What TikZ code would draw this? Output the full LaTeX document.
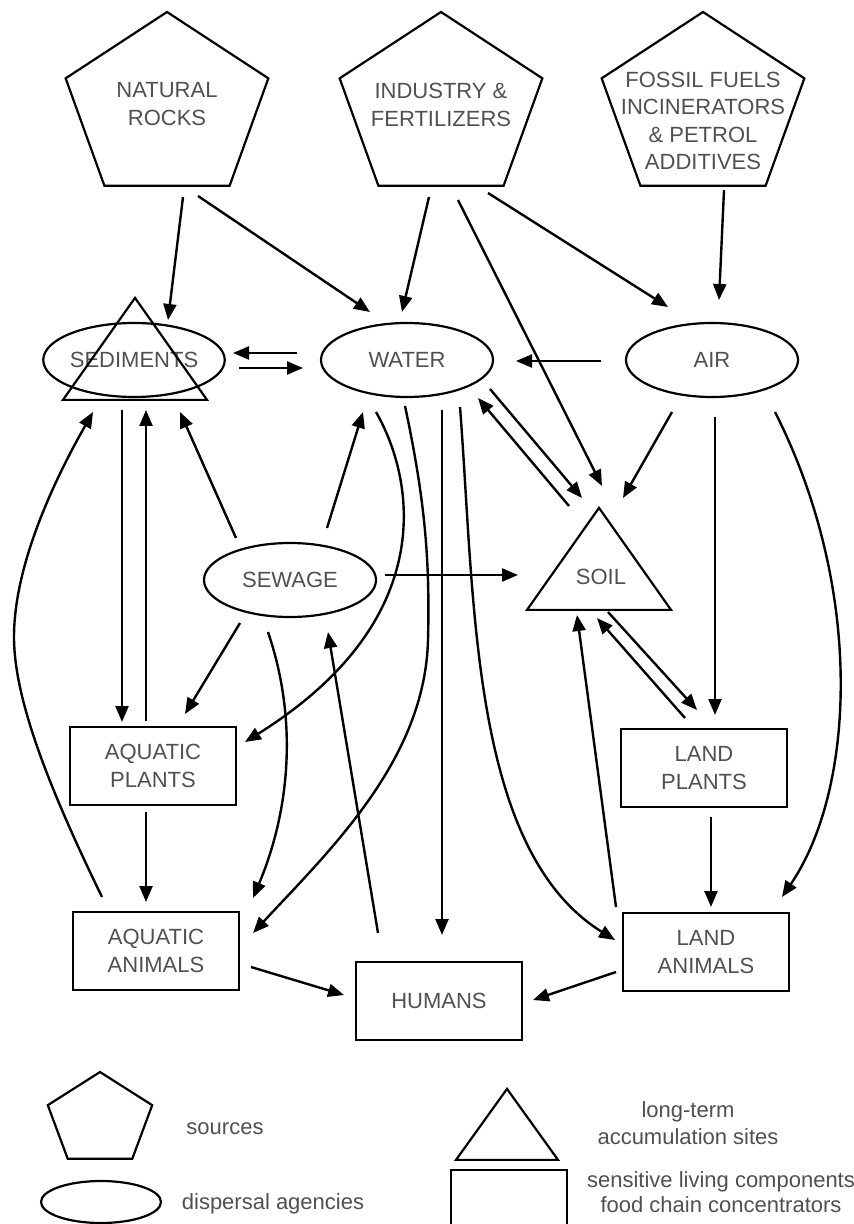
\documentclass[tikz,border=0pt]{standalone}
\usepackage{fontspec}
\setmainfont{Liberation Sans}
\usetikzlibrary{shapes.geometric, arrows.meta, calc}
\definecolor{textgray}{RGB}{80,80,80}

\begin{document}
\begin{tikzpicture}[
    x=0.5pt, y=-0.5pt,
    every node/.style={font=\fontsize{11}{13.8}\selectfont, text=textgray},
    source/.style={regular polygon, regular polygon sides=5, draw, line width=1.1pt, minimum size=96pt, inner sep=0pt, xscale=1.11, transform shape},
    agency/.style={ellipse, draw, line width=1.1pt, minimum width=86pt, minimum height=37pt, inner sep=0pt},
    sink/.style={isosceles triangle, isosceles triangle stretches, shape border rotate=90, draw, line width=1.1pt, minimum width=72pt, minimum height=51pt, inner sep=0pt, anchor=apex},
    living/.style={rectangle, draw, line width=1.1pt, minimum width=83pt, minimum height=39pt, align=center},
    tag/.style={align=center, inner sep=0pt},
    flow/.style={draw, line width=1.2pt, -{Triangle[length=8pt,width=6.5pt]}}
]
\useasboundingbox (0,0) rectangle (853,1224);

% Sources
\node[source] (rocks) at (167,108) {};
\node[tag] (rockstext) at (167,104) {NATURAL\\ROCKS};
\node[source] (industry) at (441,108) {};
\node[tag] (industrytext) at (441,105) {INDUSTRY \&\\FERTILIZERS};
\node[source] (fossil) at (703,108) {};
\node[tag] (fossiltext) at (703,121) {FOSSIL FUELS\\INCINERATORS\\\& PETROL\\ADDITIVES};

% Dispersal agencies and sinks
\node[agency] (sed) at (134,360) {SEDIMENTS};
\node[sink] (sedsink) at (135,295) {};
\node[agency] (water) at (407,360) {WATER};
\node[agency] (air) at (712,360) {AIR};
\node[agency] (sewage) at (290,580) {SEWAGE};
\node[sink] (soil) at (599,505) {};
\node[tag] (soiltext) at ($(soil.apex)+(2,72)$) {SOIL};

% Living components
\node[living] (aqp) at (153,766) {AQUATIC\\PLANTS};
\node[living] (lp) at (704,768) {LAND\\PLANTS};
\node[living] (aqa) at (156,951) {AQUATIC\\ANIMALS};
\node[living] (humans) at (439,1001) {HUMANS};
\node[living] (la) at (706,952) {LAND\\ANIMALS};

% Flows from sources
\draw[flow] ($(rocks)+(16,89)$) -- ($(sed)+(34,-40)$);
\draw[flow] ($(rocks)+(31,88)$) -- ($(water)+(-37,-48)$);
\draw[flow] ($(industry)+(-12,89)$) -- ($(water)+(-5,-48)$);
\draw[flow] ($(industry)+(17,92)$) -- ($(soil.apex)+(3,-19)$);
\draw[flow] ($(industry)+(47,85)$) -- ($(air)+(-44,-53)$);
\draw[flow] ($(fossil)+(21,82)$) -- ($(air)+(7,-60)$);

% Exchanges between agencies
\draw[flow] ($(water)+(-110,-7)$) -- ($(sed)+(99,-7)$);
\draw[flow] ($(sed)+(105,8)$) -- ($(water)+(-104,8)$);
\draw[flow] ($(air)+(-111,1)$) -- ($(water)+(109,1)$);
\draw[flow] ($(soil.apex)+(-30,1)$) -- ($(water)+(71,38)$);
\draw[flow] ($(water)+(83,29)$) -- ($(soil.apex)+(-17,-7)$);
\draw[flow] ($(air)+(-40,52)$) -- ($(soil.apex)+(24,-7)$);
\draw[flow] ($(air)+(3,57)$) -- ($(lp)+(11,-53)$);
\draw[flow] ($(air)+(63,52)$) .. controls (865,590) and (855,790) .. ($(la)+(76,-55)$);

% Sediments and sewage
\draw[flow] ($(sed)+(-12,50)$) -- ($(aqp)+(-31,-44)$);
\draw[flow] ($(aqp)+(-7,-45)$) -- ($(sed)+(12,50)$);
\draw[flow] ($(sewage)+(-54,-42)$) -- ($(sed)+(46,52)$);
\draw[flow] ($(sewage)+(37,-52)$) -- ($(water)+(-44,52)$);
\draw[flow] ($(aqa)+(-54,-54)$) .. controls (50,790) and (14,700) .. (14,637)
    .. controls (14,560) and (60,470) .. ($(sed)+(-41,52)$);
\draw[flow] ($(sewage)+(95,-5)$) -- ($(soil.apex)+(-81,70)$);
\draw[flow] ($(sewage)+(-50,43)$) -- ($(aqp)+(32,-52)$);
\draw[flow] ($(sewage)+(-22,52)$) .. controls (298,720) and (290,810) .. ($(aqa)+(97,-53)$);
\draw[flow] ($(humans)+(-61,-68)$) -- ($(sewage)+(38,52)$);

% Water to living components
\draw[flow] ($(water)+(-31,52)$) .. controls (415,480) and (440,620) .. ($(aqp)+(92,-24)$);
\draw[flow] ($(water)+(-2,46)$) .. controls (425,500) and (430,560) .. (428,640)
    .. controls (425,760) and (330,850) .. ($(aqa)+(97,-18)$);
\draw[flow] ($(water)+(35,50)$) -- ($(humans)+(3,-66)$);
\draw[flow] ($(water)+(53,47)$) .. controls (475,600) and (470,850) .. ($(la)+(-91,-12)$);

% Soil and land life
\draw[flow] ($(lp)+(-19,-50)$) -- ($(soil.apex)+(-2,113)$);
\draw[flow] ($(soil.apex)+(9,107)$) -- ($(lp)+(-7,-58)$);
\draw[flow] ($(la)+(-90,-45)$) -- ($(soil.apex)+(-22,110)$);

% Food chain
\draw[flow] ($(aqp)+(-7,46)$) -- ($(aqa)+(-10,-49)$);
\draw[flow] ($(lp)+(7,49)$) -- ($(la)+(5,-45)$);
\draw[flow] ($(aqa)+(95,16)$) -- ($(humans)+(-95,-6)$);
\draw[flow] ($(la)+(-90,20)$) -- ($(humans)+(94,-1)$);

% Legend
\node[source, minimum size=48pt, xscale=1.03] (legsource) at (100,1120) {};
\node[tag] (legsourcetext) at (225,1129) {sources};
\node[agency, minimum width=60pt, minimum height=21pt] (legagency) at (101,1202) {};
\node[tag] (legagencytext) at (273,1204) {dispersal agencies};
\node[sink, minimum width=51pt, minimum height=35.5pt] (legsink) at (507,1086) {};
\node[tag] (legsinktext) at (688,1123) {long-term\\accumulation sites};
\node[living, minimum width=58pt, minimum height=30pt] (legliving) at (509,1200) {};
\node[tag, font=\fontsize{11}{12.5}\selectfont] (leglivingtext) at (721,1192) {sensitive living components\\food chain concentrators};
\end{tikzpicture}
\end{document}
